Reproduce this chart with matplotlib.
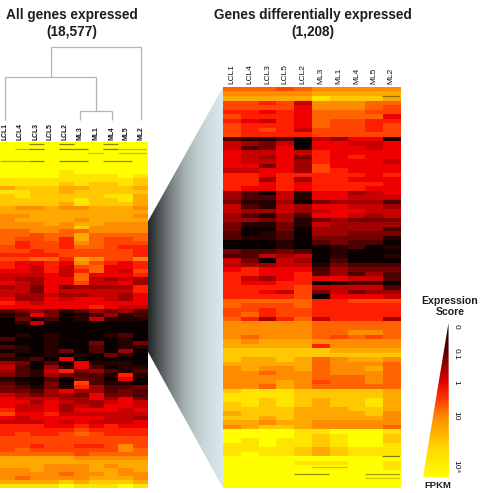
import numpy as np
import matplotlib
matplotlib.use("Agg")
import matplotlib.pyplot as plt
from matplotlib.colors import LinearSegmentedColormap
from matplotlib.patches import Polygon

W, H = 486, 493
plt.rcParams['font.family'] = ['Liberation Sans', 'DejaVu Sans']

# Expression levels per gene row, one hex digit per sample: 0 = highest FPKM, e = zero
left_samples = ["LCL1", "LCL4", "LCL3", "LCL5", "LCL2", "ML3", "ML1", "ML4", "ML5", "ML2"]
right_samples = ["LCL1", "LCL4", "LCL3", "LCL5", "LCL2", "ML3", "ML1", "ML4", "ML5", "ML2"]

all_genes = [
    "0000000000", "0000000000", "0000000000", "0000000000", "0000000000", "0000000000",
    "0000000000", "0000100000", "0000111101", "1111111112", "1111212212", "3222332223",
    "1122322222", "2122222113", "2222212213", "2222312223", "3443443334", "3333333333",
    "4433333334", "4333343333", "4443433444", "4444424444", "5544554444", "5565535555",
    "5665735665", "5766745666", "6766755677", "6676666667", "7777666667", "6655734664",
    "7887846787", "7897965887", "8897975896", "9998958887", "9aa8859a9a", "89a886998a",
    "a9b8baaaa7", "99b8999997", "9aa9aa99a8", "8aa89889a8", "7898888888", "8888887899",
    "cbabdcabac", "dc8bedcadc", "ebeced9ddd", "ed9eeeeeee", "eeeeeeeeee", "eeeeeeeeee",
    "ededeeedce", "ceedeeeede", "eeedeebedb", "cdedeecedd", "ededbeceae", "ceededebde",
    "ddce8eeeee", "abece8ddde", "9cead8cedd", "acd97bacdc", "bcdabccd7d", "deecebce8e",
    "cdebe6cdde", "bcdbd7accb", "bbca8aacbc", "9abaab8bbc", "8999aa8a8b", "88a89aa989",
    "8998a9a889", "7998a88898", "6887999999", "898888899a", "9998989998", "7778878788",
    "7777767777", "7677656777", "6666666666", "6666666666", "6676677646", "6566666645",
    "5555565555", "3333344444", "3333333333", "3334443433", "4434443343", "4444544344",
    "4544443334", "3333232223", "1111011101",
]

differential_genes = [
    "5556544444", "4444433333", "3333312223", "6676944455", "6666844456", "7787855566",
    "6777855558", "7897856677", "6777856676", "6767966676", "6777766666", "cddce9a88d",
    "9ab9e88998", "9cb8e88898", "8998978888", "89a8b78788", "8998a78889", "88b8a68888",
    "9988a67888", "7787777787", "77a7a77888", "7787877778", "7887877788", "ace9d88a98",
    "acc9d88999", "bddaebaaac", "9cd9a8899a", "9aa9a98899", "acdac889a9", "aabadbabbb",
    "bddbd9aaaa", "beebeaaaac", "cedceaabbb", "cddcebbbbd", "eeedecbcce", "eeedeedced",
    "bccbcedeee", "cc9a9edeed", "9be9aeceee", "9aa99dbccc", "87888cabbb", "77887cacac",
    "79a878899c", "78877edcce", "777769999c", "77896b9baa", "77776e8889", "5555577666",
    "5666577777", "6676677777", "6576677777", "57a759777a", "4444455555", "4444455555",
    "4444455445", "4544456565", "3433344444", "3333374444", "2222223333", "2222222222",
    "2332354334", "3333354445", "4344354435", "4454454445", "4444455545", "4443465545",
    "4453455555", "2111222223", "1111222223", "1121232213", "2121232213", "2222333223",
    "3222333324", "2232333334", "3343344444", "4322344445", "0000110001", "0000121002",
    "0101121002", "1101121001", "1111232111", "1011232111", "0000000000", "0000111001",
    "0000000001", "0000000000", "0000000000", "0000000000", "0000000000",
]

# Short dark streaks across the nearly silent rows: row, first sample, last sample, opacity
all_streaks = [
    (0.5, 2, 2, .75), (0.5, 4, 4, .8), (0.5, 7, 7, .75),
    (1.85, 1, 1, .45), (1.85, 2, 2, .8), (1.85, 4, 5, .8), (1.85, 7, 7, .8), (1.85, 8, 9, .4),
    (2.8, 6, 6, .35), (2.8, 8, 9, .4),
    (4.7, 0, 1, .5), (4.7, 2, 2, .75), (4.7, 4, 5, .75), (4.7, 7, 8, .7),
]
differential_streaks = [
    (2.0, 9, 9, .8), (81.9, 9, 9, .8), (84.4, 5, 6, .35),
    (85.9, 4, 5, .7), (85.9, 8, 9, .6), (86.8, 8, 9, .3),
]

# Dendrogram over the left panel: heights are pixel rows of each merge bar
merge_root, merge_lcl, merge_ml, leaf_end = 47, 77, 111, 120
root_left_x = 51
left_label_x = [5, 20, 36, 50, 65, 80, 96, 112, 126, 141]
right_label_x = [232, 250, 268, 285, 303, 321, 339, 357, 374, 391]

scale_labels = ["0", "0.1", "1", "10", "10\u2074"]
scale_label_y = [326, 354, 382, 416, 467]

heat = LinearSegmentedColormap.from_list("heat", [
    (0 / 14, "#FFFF00"), (1 / 14, "#FFE400"), (2 / 14, "#FFC800"), (3 / 14, "#FFA800"),
    (4 / 14, "#FF8C00"), (5 / 14, "#FF6400"), (6 / 14, "#FF4500"), (7 / 14, "#FF2000"),
    (8 / 14, "#F00000"), (9 / 14, "#C80000"), (10 / 14, "#A00000"), (11 / 14, "#780000"),
    (12 / 14, "#500000"), (13 / 14, "#280000"), (14 / 14, "#0A0000"),
])


def to_matrix(rows):
    return np.array([[int(c, 16) for c in r] for r in rows], dtype=float)


def px_axes(fig, x0, y0, x1, y1):
    return fig.add_axes([x0 / W, 1 - y1 / H, (x1 - x0) / W, (y1 - y0) / H])


def heatmap(fig, box, rows, streaks):
    ax = px_axes(fig, *box)
    m = to_matrix(rows)
    ax.imshow(m, cmap=heat, vmin=0, vmax=14, aspect="auto", interpolation="nearest",
              extent=(0, 10, m.shape[0], 0))
    for row, first, last, alpha in streaks:
        ax.hlines(row, first, last + 1, color="#6E5A00", lw=0.9, alpha=alpha)
    ax.axis("off")


fig = plt.figure(figsize=(W / 100, H / 100), dpi=100)
canvas = fig.add_axes([0, 0, 1, 1])
canvas.axis("off")

# Wedge linking the dark band on the left to the enlarged panel
wedge_colors = LinearSegmentedColormap.from_list(
    "wedge", ["#1E2222", "#6A7070", "#A9B3B5", "#CBD8DB", "#DCE9ED"])
wedge = canvas.imshow(np.linspace(0, 1, 256)[None, :], cmap=wedge_colors, aspect="auto",
                      extent=(147, 223, 488, 87), zorder=1)
wedge_clip = Polygon([(147, 223), (223, 87), (223, 488), (147, 350)], closed=True,
                     transform=canvas.transData, fc="none", ec="none")
canvas.add_patch(wedge_clip)
wedge.set_clip_path(wedge_clip)

# Tapered colour key
key_stops = [(0.0, "#0A0000"), (0.18, "#5A0000"), (0.38, "#E00000"), (0.48, "#FF3000"),
             (0.62, "#FF9000"), (0.82, "#FFD800"), (1.0, "#FFFF00")]
key_cmap = LinearSegmentedColormap.from_list("key", key_stops)
key = canvas.imshow(np.linspace(0, 1, 256)[:, None], cmap=key_cmap, aspect="auto",
                    extent=(423, 449, 477, 323), origin="upper", zorder=1)
key_clip = Polygon([(448.5, 323), (449, 477), (423, 477)], closed=True,
                   transform=canvas.transData, fc="none", ec="none")
canvas.add_patch(key_clip)
key.set_clip_path(key_clip)
canvas.set_xlim(0, W)
canvas.set_ylim(H, 0)

heatmap(fig, (0, 142, 147, 488), all_genes, all_streaks)
heatmap(fig, (223, 87, 400, 488), differential_genes, differential_streaks)

# Dendrogram
line = dict(color="#B4B4B4", lw=0.9, solid_capstyle="butt", zorder=2)
lcl_x, ml_a, ml_b, root_r = left_label_x[0], left_label_x[5], left_label_x[7], left_label_x[9]
ml_mid = (ml_a + ml_b) / 2
canvas.plot([root_left_x, root_left_x], [merge_lcl, merge_root], **line)
canvas.plot([root_left_x, root_r, root_r], [merge_root, merge_root, leaf_end], **line)
canvas.plot([lcl_x, lcl_x], [leaf_end, merge_lcl], **line)
canvas.plot([lcl_x, ml_mid, ml_mid], [merge_lcl, merge_lcl, merge_ml], **line)
canvas.plot([ml_a, ml_a], [leaf_end, merge_ml], **line)
canvas.plot([ml_a, ml_b], [merge_ml, merge_ml], **line)
canvas.plot([ml_b, ml_b], [merge_ml, leaf_end], **line)

ink = "#1E1E1E"
title = dict(ha="center", va="center", fontweight="bold", color=ink, fontsize=9.8)
canvas.text(72, 15, "All genes expressed", **title)
canvas.text(72, 32, "(18,577)", **title)
canvas.text(313, 15, "Genes differentially expressed", **title)
canvas.text(313, 32, "(1,208)", **title)

for x, s in zip(left_label_x, left_samples):
    canvas.text(x, 140, s, rotation=90, ha="center", va="bottom", fontsize=4.9,
                fontweight="bold", color="#111111")
for x, s in zip(right_label_x, right_samples):
    canvas.text(x, 84, s, rotation=90, ha="center", va="bottom", fontsize=6, color="#111111")

canvas.text(450, 301, "Expression", ha="center", va="center", fontsize=7.6, fontweight="bold", color=ink)
canvas.text(450, 312, "Score", ha="center", va="center", fontsize=7.6, fontweight="bold", color=ink)
canvas.text(438, 485, "FPKM", ha="center", va="center", fontsize=6.8, fontweight="bold", color=ink)
for y, s in zip(scale_label_y, scale_labels):
    canvas.text(456, y, s, rotation=-90, ha="center", va="center", fontsize=6, color="#111111")

fig.savefig("out.png", dpi=100, facecolor="white")
